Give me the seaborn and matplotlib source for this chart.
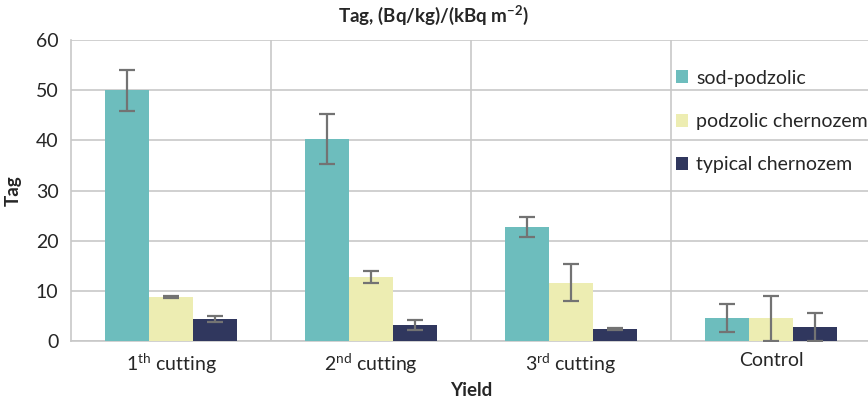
import numpy as np
import pandas as pd
import matplotlib
matplotlib.use("Agg")
import matplotlib.pyplot as plt
import seaborn as sns

# data
cuttings = ["1$^{\\rm th}$ cutting", "2$^{\\rm nd}$ cutting", "3$^{\\rm rd}$ cutting", "Control"]
soils = ["sod-podzolic", "podzolic chernozem", "typical chernozem"]
sod_podzolic = [50.0, 40.3, 22.7, 4.5]
podzolic_chernozem = [8.7, 12.8, 11.6, 4.5]
typical_chernozem = [4.4, 3.1, 2.3, 2.8]
sod_err = [4.1, 5.0, 2.0, 2.8]
podz_err = [0.2, 1.2, 3.7, 4.5]
typ_err = [0.6, 1.0, 0.2, 2.8]

colors = ["#6DBDBD", "#EDEDB2", "#30375E"]

df = pd.DataFrame({
    "Yield": cuttings * 3,
    "Soil": np.repeat(soils, len(cuttings)),
    "Tag": sod_podzolic + podzolic_chernozem + typical_chernozem,
    "err": sod_err + podz_err + typ_err,
})

sns.set_style("white")
plt.rcParams["font.family"] = ["Lato", "DejaVu Sans"]
plt.rcParams["mathtext.fontset"] = "custom"
plt.rcParams["mathtext.rm"] = "Lato"
plt.rcParams["mathtext.bf"] = "Lato:bold"
plt.rcParams["mathtext.it"] = "Lato:italic"

fig = plt.figure(figsize=(8.68, 3.98), dpi=100)
ax = fig.add_axes([71 / 868, 57 / 398, 800 / 868, 301 / 398])

sns.barplot(data=df, x="Yield", y="Tag", hue="Soil", palette=colors,
            width=0.66, errorbar=None, saturation=1, linewidth=0, ax=ax, zorder=3)

# error bars at bar centres
for cont, soil in zip(ax.containers, soils):
    sub = df[df["Soil"] == soil]
    xs = [p.get_x() + p.get_width() / 2 for p in cont.patches]
    ax.errorbar(xs, sub["Tag"].values, yerr=sub["err"].values, fmt="none",
                ecolor="#737373", elinewidth=1.6, capsize=5.5, capthick=1.6, zorder=4)

ax.set_ylim(0, 60)
ax.set_xlim(-0.5, 3.5)
ax.set_yticks(range(0, 61, 10))
ax.yaxis.grid(True, color="#C8C8C8", lw=1.2, zorder=0)
for b in [0.5, 1.5, 2.5]:
    ax.axvline(b, color="#C8C8C8", lw=1.2, zorder=0)
for s in ["top", "right"]:
    ax.spines[s].set_visible(False)
ax.spines["left"].set_color("#C8C8C8")
ax.spines["bottom"].set_color("#C8C8C8")
ax.spines["left"].set_linewidth(1.2)
ax.spines["bottom"].set_linewidth(1.2)
ax.tick_params(axis="both", length=0, labelsize=14, colors="#262626")
ax.tick_params(axis="x", pad=8)
ax.tick_params(axis="y", pad=9)

ax.set_xlabel("Yield", fontsize=13.5, fontweight="bold", labelpad=4, color="#262626")
ax.set_ylabel("Tag", fontsize=13.5, fontweight="bold", labelpad=10, color="#262626")
fig.text(0.5, 0.945, "Tag, (Bq/kg)/(kBq m$^{\\mathbf{-2}}$)", ha="center",
         fontsize=13.5, fontweight="bold", color="#262626")

leg = ax.legend(loc="upper left", bbox_to_anchor=(668 / 868, 1 - 62 / 398),
                bbox_transform=fig.transFigure, frameon=False, fontsize=14,
                handlelength=0.65, handleheight=0.65, handletextpad=0.4,
                labelspacing=1.35, borderaxespad=0)
for t in leg.get_texts():
    t.set_color("#262626")

fig.savefig("out.png", dpi=100)
